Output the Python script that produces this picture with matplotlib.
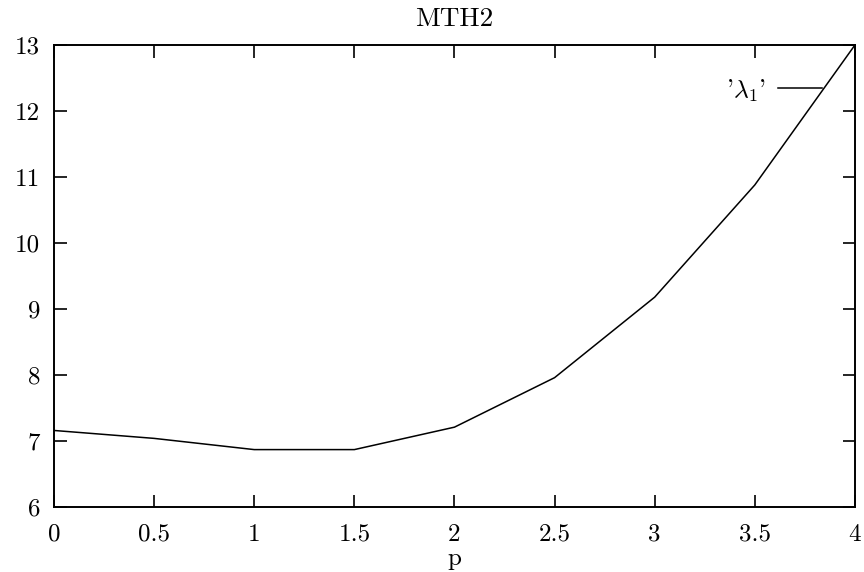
import matplotlib
matplotlib.use("Agg")
import matplotlib.pyplot as plt

p = [0, 0.5, 1, 1.5, 2, 2.5, 3, 3.5, 4]
lam1 = [7.16, 7.04, 6.87, 6.87, 7.21, 7.96, 9.18, 10.88, 13.0]

xticks = [0, 0.5, 1, 1.5, 2, 2.5, 3, 3.5, 4]
xticklabels = ["0", "0.5", "1", "1.5", "2", "2.5", "3", "3.5", "4"]
yticks = [6, 7, 8, 9, 10, 11, 12, 13]

plt.rcParams['font.family'] = 'cmr10'
plt.rcParams['mathtext.fontset'] = 'cm'
plt.rcParams['axes.unicode_minus'] = False

fig = plt.figure(figsize=(8.64, 5.72), dpi=100)
ax = fig.add_axes([0.0625, 0.1136, 0.927, 0.8077])

ax.plot(p, lam1, color="black", linewidth=1.1, label="'$\\lambda_1$'")

ax.set_xlim(0, 4)
ax.set_ylim(6, 13)
ax.set_xticks(xticks)
ax.set_xticklabels(xticklabels)
ax.set_yticks(yticks)
ax.set_yticklabels([str(v) for v in yticks])
ax.tick_params(direction="in", top=True, right=True, length=9, width=1.2,
               labelsize=18)
ax.tick_params(axis="x", pad=12)
ax.tick_params(axis="y", pad=10)
for s in ax.spines.values():
    s.set_linewidth(1.4)

ax.set_title("MTH2", fontsize=19.5, pad=14)
ax.set_xlabel("p", fontsize=18)
ax.xaxis.set_label_coords(0.5, -0.1255)
ax.xaxis.label.set_va("baseline")

leg = ax.legend(loc="upper right", frameon=False, markerfirst=False,
                fontsize=18.5, handlelength=1.7, handletextpad=0.5,
                borderpad=0, borderaxespad=0,
                bbox_to_anchor=(0.959, 0.93))

plt.savefig("out.png", dpi=100)
